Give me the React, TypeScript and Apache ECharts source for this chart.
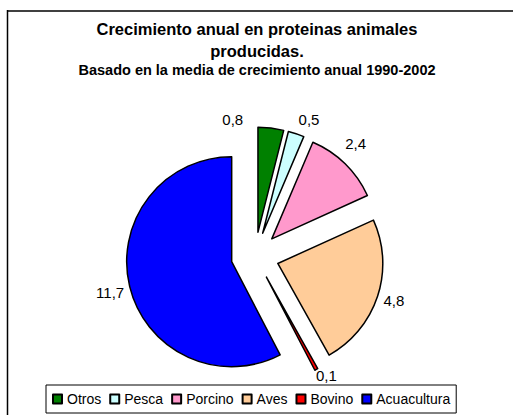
import React, { useEffect, useRef } from "react";
import * as echarts from "echarts";

const categories = ["Otros", "Pesca", "Porcino", "Aves", "Bovino", "Acuacultura"];
const values = [0.8, 0.5, 2.4, 4.8, 0.1, 11.7];
const colors = ["#008000", "#CCFFFF", "#FF99CC", "#FFCC99", "#FF0000", "#0000FF"];
const titleLines = ["Crecimiento anual en proteinas animales", "producidas."];
const subtitle = "Basado en la media de crecimiento anual 1990-2002";

// small label nudges (styling only) so the labels sit where the reference places them
const labelNudge: [number, number][] = [
  [-40, 6],
  [8, 0],
  [0, -10],
  [2, 0],
  [3, -7],
  [-5, 2],
];

const FONT = 'Arial, "Liberation Sans", sans-serif';

export default function App() {
  const ref = useRef<HTMLDivElement>(null);
  useEffect(() => {
    if (!ref.current) return;
    const chart = echarts.init(ref.current, null, { renderer: "svg" });
    const data = categories.map((name, i) => ({
      name,
      value: values[i],
      selected: true,
      itemStyle: { color: colors[i] },
    }));
    chart.setOption({
      animation: false,
      backgroundColor: "#ffffff",
      title: {
        text: titleLines.join("\n"),
        subtext: subtitle,
        left: "center",
        top: 18,
        padding: 0,
        itemGap: 0,
        textStyle: {
          fontFamily: FONT,
          fontSize: 16.5,
          fontWeight: "bold",
          color: "#000",
          lineHeight: 22,
        },
        subtextStyle: {
          fontFamily: FONT,
          fontSize: 14.5,
          fontWeight: "bold",
          color: "#000",
          lineHeight: 16,
        },
      },
      legend: {
        data: categories,
        left: 46,
        top: 385,
        orient: "horizontal",
        icon: "rect",
        itemWidth: 9,
        itemHeight: 9,
        itemGap: 8,
        padding: [6, 6, 6, 6],
        borderColor: "#000",
        borderWidth: 1,
        selectedMode: false,
        textStyle: {
          fontFamily: FONT,
          fontSize: 14,
          color: "#000",
          lineHeight: 16,
        },
      },
      graphic: [
        {
          type: "line",
          shape: { x1: 7, y1: 11, x2: 513, y2: 11 },
          style: { stroke: "#404040", lineWidth: 2 },
        },
        {
          type: "line",
          shape: { x1: 7.5, y1: 10, x2: 7.5, y2: 415 },
          style: { stroke: "#000", lineWidth: 1.5 },
        },
      ],
      series: [
        {
          type: "pie",
          center: [255, 256],
          radius: 105,
          startAngle: 90,
          clockwise: true,
          selectedMode: "multiple",
          selectedOffset: 24,
          avoidLabelOverlap: false,
          emphasis: { disabled: true },
          itemStyle: { borderColor: "#000", borderWidth: 1.5 },
          label: {
            show: true,
            position: "outside",
            fontFamily: FONT,
            fontSize: 15,
            color: "#000",
            distanceToLabelLine: 0,
            formatter: (p: any) => String(p.value).replace(".", ","),
          },
          labelLine: { show: false, length: 15, length2: 0 },
          labelLayout: (params: any) => {
            const n = labelNudge[params.dataIndex] || [0, 0];
            return { align: "center", verticalAlign: "middle", dx: n[0], dy: n[1] };
          },
          data,
        },
      ],
    });
    return () => chart.dispose();
  }, []);
  return (
    <div
      ref={ref}
      style={{ position: "fixed", left: 0, top: 0, width: 514, height: 415 }}
    />
  );
}
